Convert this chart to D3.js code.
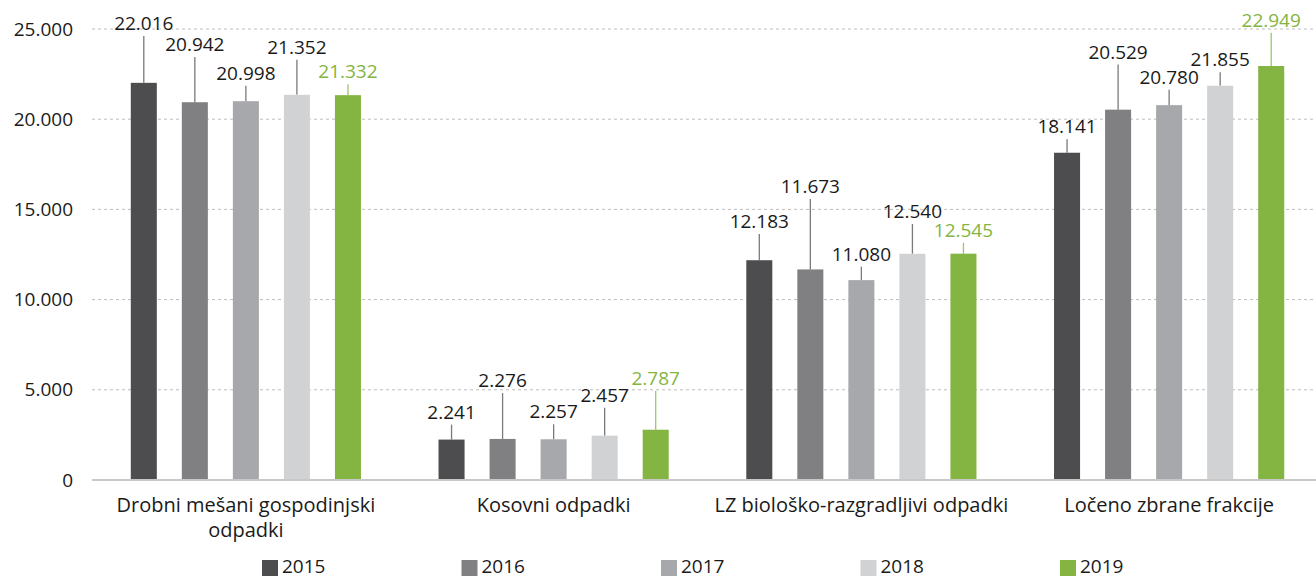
<!DOCTYPE html>
<html>
<head>
<meta charset="utf-8">
<script src="https://cdn.jsdelivr.net/npm/d3@7"></script>
<style>
  body { margin: 0; background: #fff; }
  svg text { font-family: "Open Sans", "Noto Sans", sans-serif; fill: #1a1a1a; }
</style>
</head>
<body>
<div id="chart"></div>
<script>
const categories = [
  ['Drobni mešani gospodinjski', 'odpadki'],
  ['Kosovni odpadki'],
  ['LZ biološko-razgradljivi odpadki'],
  ['Ločeno zbrane frakcije']
];
const years = ['2015', '2016', '2017', '2018', '2019'];
const v2015 = [22016, 2241, 12183, 18141];
const v2016 = [20942, 2276, 11673, 20529];
const v2017 = [20998, 2257, 11080, 20780];
const v2018 = [21352, 2457, 12540, 21855];
const v2019 = [21332, 2787, 12545, 22949];
// upper error bars (the thin lines that carry the value labels)
const e2015 = [2600, 830, 1450, 750];
const e2016 = [2500, 2550, 3900, 2500];
const e2017 = [850, 830, 750, 850];
const e2018 = [1950, 1550, 1650, 750];
const e2019 = [600, 2150, 600, 1850];
const yTicks = [0, 5000, 10000, 15000, 20000, 25000];

const values = [v2015, v2016, v2017, v2018, v2019];
const errors = [e2015, e2016, e2017, e2018, e2019];
const colors = ['#4d4d4f', '#808083', '#a7a8ab', '#d1d2d4', '#84b441'];
const lineColors = ['#7a7a7a', '#7a7a7a', '#7a7a7a', '#7a7a7a', '#9cc665'];
const labelColors = ['#1a1a1a', '#1a1a1a', '#1a1a1a', '#1a1a1a', '#84b441'];

const W = 1316, H = 578;
const plotLeft = 92, plotRight = 1316, plotTop = 29, plotBottom = 480;

const fmt = v => d3.format(',')(v).replace(/,/g, '.');

const svg = d3.select('#chart').append('svg')
  .attr('width', W).attr('height', H);

// the last category band runs a little past the right edge
const x0 = d3.scaleBand().domain(d3.range(categories.length)).range([plotLeft, 1323]);
const x1 = d3.scaleBand().domain(years).range([0, x0.bandwidth()])
  .paddingInner(0.49).paddingOuter(0.76);
const y = d3.scaleLinear().domain([0, 25000]).range([plotBottom, plotTop]);

// gridlines
svg.append('g').selectAll('line')
  .data(yTicks.filter(t => t > 0))
  .enter().append('line')
  .attr('x1', plotLeft).attr('x2', plotRight)
  .attr('y1', d => y(d)).attr('y2', d => y(d))
  .attr('stroke', '#bdbdbd').attr('stroke-width', 1)
  .attr('stroke-dasharray', '3,3');

// y axis labels
const yAxis = svg.append('g')
  .attr('transform', 'translate(73,0)')
  .call(d3.axisLeft(y).tickValues(yTicks).tickSize(0).tickPadding(0).tickFormat(fmt));
yAxis.select('.domain').remove();
yAxis.selectAll('text')
  .style('font-size', '19px')
  .attr('fill', '#1a1a1a');

// bars
const rows = [];
categories.forEach((c, ci) => {
  years.forEach((yr, yi) => {
    rows.push({ ci, yi, yr, v: values[yi][ci], e: errors[yi][ci] });
  });
});

const g = svg.append('g');

g.selectAll('line.err')
  .data(rows).enter().append('line')
  .attr('class', 'err')
  .attr('x1', d => x0(d.ci) + x1(d.yr) + x1.bandwidth() / 2)
  .attr('x2', d => x0(d.ci) + x1(d.yr) + x1.bandwidth() / 2)
  .attr('y1', d => y(d.v))
  .attr('y2', d => y(d.v + d.e))
  .attr('stroke', d => lineColors[d.yi])
  .attr('stroke-width', 1.3);

g.selectAll('rect')
  .data(rows).enter().append('rect')
  .attr('x', d => x0(d.ci) + x1(d.yr))
  .attr('y', d => y(d.v))
  .attr('width', x1.bandwidth())
  .attr('height', d => y(0) - y(d.v))
  .attr('fill', d => colors[d.yi]);

g.selectAll('text.val')
  .data(rows).enter().append('text')
  .attr('class', 'val')
  .attr('x', d => x0(d.ci) + x1(d.yr) + x1.bandwidth() / 2)
  .attr('y', d => y(d.v + d.e) - 6)
  .attr('text-anchor', 'middle')
  .style('font-size', '19px')
  .style('fill', d => labelColors[d.yi])
  .text(d => fmt(d.v));

// baseline
svg.append('line')
  .attr('x1', plotLeft).attr('x2', plotRight)
  .attr('y1', y(0)).attr('y2', y(0))
  .attr('stroke', '#c8c8c8').attr('stroke-width', 2);

// category labels
const cat = svg.append('g').selectAll('text')
  .data(categories).enter().append('text')
  .attr('x', (d, i) => x0(i) + x0.bandwidth() / 2)
  .attr('y', 512)
  .attr('text-anchor', 'middle')
  .style('font-size', '20px');
cat.selectAll('tspan')
  .data(d => d).enter().append('tspan')
  .attr('x', function () { return this.parentNode.getAttribute('x'); })
  .attr('dy', (d, i) => i === 0 ? 0 : 25)
  .text(d => d);

// legend
const legend = svg.append('g').selectAll('g')
  .data(years).enter().append('g')
  .attr('transform', (d, i) => `translate(${262 + i * 199.5},560)`);
legend.append('rect')
  .attr('width', 16).attr('height', 16)
  .attr('fill', (d, i) => colors[i]);
legend.append('text')
  .attr('x', 20).attr('y', 13)
  .style('font-size', '19px')
  .text(d => d);
</script>
</body>
</html>
